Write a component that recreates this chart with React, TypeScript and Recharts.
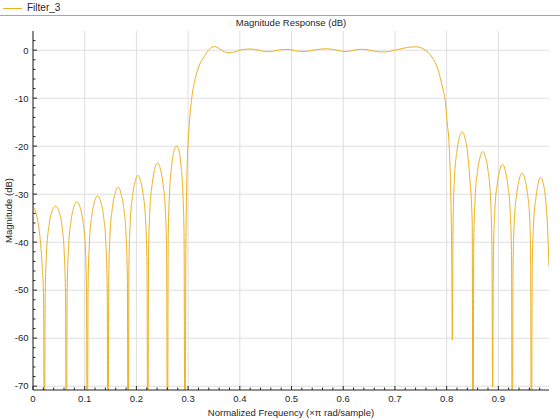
import { CartesianGrid, Line, LineChart, XAxis, YAxis } from "recharts";

// [normalized frequency, magnitude dB]
const lowStopband = [
  [0, -32.6], [0.004, -33.3], [0.009, -35.5], [0.014, -39.5], [0.018, -45.5], [0.0205, -52], [0.022, -100],
  [0.0235, -51.5], [0.026, -42.5], [0.031, -36.5], [0.036, -33.8], [0.0435, -32.5], [0.051, -33.8], [0.056, -36.5], [0.0605, -42.5], [0.063, -51.5], [0.0645, -100],
  [0.066, -50.6], [0.0685, -41.6], [0.0735, -35.6], [0.0785, -32.9], [0.085, -31.6], [0.0915, -32.9], [0.0965, -35.6], [0.1015, -41.6], [0.1035, -50.6], [0.105, -100],
  [0.1065, -49.3], [0.109, -40.3], [0.114, -34.3], [0.119, -31.6], [0.125, -30.3], [0.131, -31.6], [0.136, -34.3], [0.141, -40.3], [0.1435, -49.3], [0.145, -100],
  [0.1465, -47.5], [0.149, -38.5], [0.154, -32.5], [0.159, -29.8], [0.1645, -28.5], [0.17, -29.8], [0.175, -32.5], [0.18, -38.5], [0.1825, -47.5], [0.184, -100],
  [0.1855, -45], [0.188, -36], [0.193, -30], [0.1975, -27.4], [0.203, -26.1], [0.2085, -27.4], [0.213, -30], [0.218, -36], [0.2205, -45], [0.222, -100],
  [0.2235, -42.5], [0.226, -33.5], [0.231, -27.5], [0.2355, -24.8], [0.241, -23.5], [0.2465, -24.8], [0.251, -27.5], [0.256, -33.5], [0.2585, -42.5], [0.26, -100],
  [0.2615, -39], [0.264, -30], [0.268, -24.3], [0.272, -21.3], [0.278, -20], [0.283, -21.3], [0.2865, -24.3], [0.29, -30], [0.2922, -39], [0.2938, -100],
];

const passband = [
  [0.2955, -45], [0.297, -30], [0.2986, -22.8], [0.2997, -20], [0.3025, -15.1], [0.307, -10], [0.3135, -6.1],
  [0.321, -3.3], [0.3315, -1.25], [0.3405, 0.15], [0.351, 0.75], [0.358, 0.5], [0.366, -0.1],
  [0.374, -0.45], [0.382, -0.5], [0.39, -0.35], [0.4, 0], [0.41, 0.2], [0.42, 0.25], [0.43, 0.15],
  [0.44, -0.1], [0.45, -0.28], [0.458, -0.3], [0.468, -0.15], [0.478, 0.05], [0.488, 0.15], [0.498, 0.1],
  [0.508, -0.1], [0.518, -0.25], [0.528, -0.25], [0.538, -0.1], [0.548, 0.1], [0.558, 0.25], [0.568, 0.3],
  [0.578, 0.2], [0.59, -0.05], [0.604, -0.3], [0.615, -0.15], [0.626, 0.1], [0.636, 0.2], [0.648, 0.05],
  [0.66, -0.2], [0.672, -0.35], [0.682, -0.35], [0.694, -0.15], [0.706, 0.15], [0.718, 0.45], [0.73, 0.65],
  [0.742, 0.7], [0.752, 0.45], [0.76, -0.1], [0.768, -0.9], [0.775, -2], [0.781, -3.3], [0.786, -5],
  [0.79, -6.8], [0.794, -8.6], [0.797, -10.2], [0.801, -15.1], [0.805, -20], [0.808, -30], [0.81, -45],
];

const highStopband = [
  [0.811, -60.4],
  [0.8125, -36], [0.815, -27], [0.82, -21], [0.8245, -18.3], [0.83, -17], [0.8355, -18.3], [0.84, -21], [0.845, -27], [0.8495, -36], [0.851, -100],
  [0.8525, -40], [0.855, -31], [0.86, -25], [0.8645, -22.4], [0.87, -21.1], [0.8755, -22.4], [0.88, -25], [0.885, -31], [0.8875, -40], [0.889, -70.2],
  [0.8905, -42.8], [0.893, -33.8], [0.898, -27.8], [0.9025, -25.1], [0.908, -23.8], [0.9135, -25.1], [0.918, -27.8], [0.923, -33.8], [0.9255, -42.8], [0.927, -100],
  [0.9285, -44.6], [0.931, -35.6], [0.936, -29.6], [0.9405, -26.9], [0.946, -25.6], [0.9515, -26.9], [0.956, -29.6], [0.961, -35.6], [0.9625, -44.6], [0.964, -100],
  [0.9655, -45.5], [0.968, -36.5], [0.973, -30.5], [0.977, -27.8], [0.982, -26.5], [0.987, -27.8], [0.991, -30.5], [0.995, -36.5], [0.998, -45],
];

const xMajor = [0, 0.1, 0.2, 0.3, 0.4, 0.5, 0.6, 0.7, 0.8, 0.9];
const xMinor = [
  0.02, 0.04, 0.06, 0.08, 0.12, 0.14, 0.16, 0.18, 0.22, 0.24, 0.26, 0.28, 0.32, 0.34, 0.36, 0.38,
  0.42, 0.44, 0.46, 0.48, 0.52, 0.54, 0.56, 0.58, 0.62, 0.64, 0.66, 0.68, 0.72, 0.74, 0.76, 0.78,
  0.82, 0.84, 0.86, 0.88, 0.92, 0.94, 0.96, 0.98,
];
const yMajor = [-70, -60, -50, -40, -30, -20, -10, 0];
const yMinor = [
  -68, -66, -64, -62, -58, -56, -54, -52, -48, -46, -44, -42, -38, -36, -34, -32,
  -28, -26, -24, -22, -18, -16, -14, -12, -8, -6, -4, -2, 2,
];

const data = [...lowStopband, ...passband, ...highStopband].map(([f, mag]) => ({ f, mag }));

const INK = "#262626";
const FONT = "'Liberation Sans', Arial, sans-serif";

function XTick({ x, y, payload, top }: any) {
  const major = xMajor.includes(payload.value);
  const len = major ? 4 : 2.5;
  return (
    <g>
      <line x1={x} x2={x} y1={y} y2={top ? y + len : y - len} stroke={INK} />
      {!top && major && (
        <text x={x} y={y + 12} textAnchor="middle" fontSize={9.5} fontFamily={FONT} fill={INK}>
          {payload.value}
        </text>
      )}
    </g>
  );
}

function YTick({ x, y, payload, right }: any) {
  const major = yMajor.includes(payload.value);
  const len = major ? 4 : 2.5;
  return (
    <g>
      <line x1={x} x2={right ? x - len : x + len} y1={y} y2={y} stroke={INK} />
      {!right && major && (
        <text x={x - 4.5} y={y} dy="0.35em" textAnchor="end" fontSize={9.5} fontFamily={FONT} fill={INK}>
          {payload.value}
        </text>
      )}
    </g>
  );
}

export default function App() {
  return (
    <div style={{ position: "absolute", left: 0, top: 0, width: 560, height: 420, background: "#fff", fontFamily: FONT }}>
      <div style={{ position: "absolute", left: 3, top: 8, width: 19, height: 1, background: "#EDB120" }} />
      <div style={{ position: "absolute", left: 27, top: 2, fontSize: 10, color: INK, lineHeight: "12px" }}>Filter_3</div>
      <div style={{ position: "absolute", left: 0, top: 15, width: 560, height: 1, background: "#a6a6a6" }} />
      <div style={{ position: "absolute", left: 33, top: 17, width: 516, textAlign: "center", fontSize: 9.5, color: INK, lineHeight: "12px" }}>
        Magnitude Response (dB)
      </div>
      <LineChart width={560} height={420} data={data} margin={{ top: 31, right: 11, bottom: 0, left: 0 }}>
        <CartesianGrid stroke="#dedede" verticalValues={xMajor} horizontalValues={yMajor} />
        <XAxis
          dataKey="f"
          type="number"
          domain={[0, 0.998]}
          allowDataOverflow
          ticks={[...xMajor, ...xMinor]}
          interval={0}
          height={30}
          tickSize={0}
          tickMargin={0}
          tickLine={false}
          axisLine={{ stroke: INK }}
          tick={(p: any) => <XTick {...p} />}
          label={{ value: "Normalized Frequency (×π rad/sample)", position: "insideBottom", offset: 4, fontSize: 9.5, fill: INK }}
        />
        <XAxis
          xAxisId="top"
          orientation="top"
          dataKey="f"
          type="number"
          domain={[0, 0.998]}
          allowDataOverflow
          ticks={[...xMajor, ...xMinor]}
          interval={0}
          height={0}
          tickSize={0}
          tickMargin={0}
          tickLine={false}
          axisLine={{ stroke: INK }}
          tick={(p: any) => <XTick {...p} top />}
        />
        <YAxis
          type="number"
          domain={[-70.8, 4]}
          allowDataOverflow
          ticks={[...yMajor, ...yMinor]}
          interval={0}
          width={33}
          tickSize={0}
          tickMargin={0}
          tickLine={false}
          axisLine={{ stroke: INK }}
          tick={(p: any) => <YTick {...p} />}
          label={{ value: "Magnitude (dB)", angle: -90, position: "insideLeft", offset: 9, fontSize: 9.5, fill: INK, style: { textAnchor: "middle" } }}
        />
        <YAxis
          yAxisId="right"
          orientation="right"
          type="number"
          domain={[-70.8, 4]}
          allowDataOverflow
          ticks={[...yMajor, ...yMinor]}
          interval={0}
          width={0}
          tickSize={0}
          tickMargin={0}
          tickLine={false}
          axisLine={{ stroke: INK }}
          tick={(p: any) => <YTick {...p} right />}
        />
        <Line type="monotone" dataKey="mag" stroke="#EDB120" strokeWidth={1} dot={false} isAnimationActive={false} />
      </LineChart>
    </div>
  );
}
